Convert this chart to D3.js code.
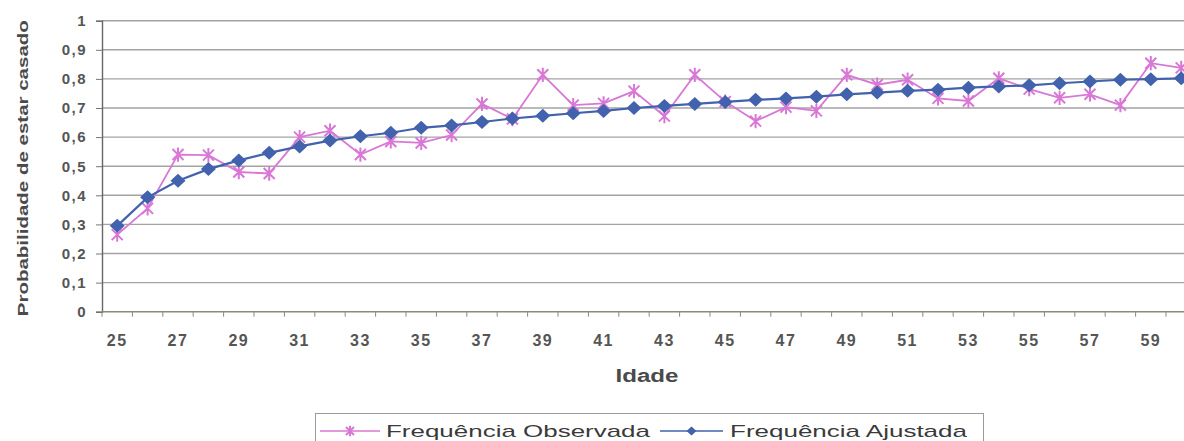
<!DOCTYPE html>
<html>
<head>
<meta charset="utf-8">
<script src="https://cdn.jsdelivr.net/npm/d3@7"></script>
<style>
  body { margin: 0; background: #fff; }
  svg { display: block; font-family: "Liberation Sans", Arial, sans-serif; }
</style>
</head>
<body>
<script>
// Data
const ages = [25, 26, 27, 28, 29, 30, 31, 32, 33, 34, 35, 36, 37, 38, 39, 40, 41, 42,
              43, 44, 45, 46, 47, 48, 49, 50, 51, 52, 53, 54, 55, 56, 57, 58, 59, 60];
const observada = [0.265, 0.355, 0.54, 0.538, 0.48, 0.475, 0.60, 0.622, 0.54, 0.585, 0.58, 0.607,
                   0.714, 0.662, 0.814, 0.71, 0.716, 0.758, 0.672, 0.814, 0.722, 0.655, 0.703, 0.69,
                   0.814, 0.78, 0.797, 0.733, 0.724, 0.802, 0.765, 0.735, 0.747, 0.71, 0.854, 0.838];
const ajustada = [0.295, 0.393, 0.45, 0.49, 0.52, 0.546, 0.568, 0.588, 0.603, 0.615, 0.632, 0.64,
                  0.652, 0.664, 0.673, 0.682, 0.69, 0.70, 0.707, 0.714, 0.721, 0.728, 0.733, 0.739,
                  0.747, 0.753, 0.759, 0.763, 0.77, 0.774, 0.778, 0.785, 0.791, 0.797, 0.799, 0.802];
const yTicks = [0, 0.1, 0.2, 0.3, 0.4, 0.5, 0.6, 0.7, 0.8, 0.9, 1];
const xLabels = [25, 27, 29, 31, 33, 35, 37, 39, 41, 43, 45, 47, 49, 51, 53, 55, 57, 59];
const seriesNames = ["Frequência Observada", "Frequência Ajustada"];

const W = 1184, H = 441;
const pinkC = "#d977d6", blueC = "#4262ad";

const svg = d3.select("body").append("svg")
    .attr("width", W)
    .attr("height", H);

// plot area runs off the right edge, like the scanned original
const x = d3.scaleBand().domain(ages).range([102, 1196.4]);
const y = d3.scaleLinear().domain([0, 1]).range([311.7, 20.7]);
const cx = d => x(d) + x.bandwidth() / 2;

// gridlines
svg.append("g")
    .selectAll("line")
    .data(yTicks.slice(1))
    .join("line")
    .attr("x1", 102).attr("x2", W)
    .attr("y1", d => y(d)).attr("y2", d => y(d))
    .attr("stroke", "#a3a3a3")
    .attr("stroke-width", 1.4);

// y axis
const yAxis = svg.append("g")
    .attr("transform", "translate(102,0)")
    .call(d3.axisLeft(y).tickValues(yTicks).tickSize(6).tickPadding(9)
        .tickFormat(d => d3.format(".1~f")(d).replace(".", ",")));
yAxis.select(".domain").attr("stroke", "#666").attr("stroke-width", 1.4);
yAxis.selectAll(".tick line").attr("stroke", "#777");
yAxis.selectAll("text")
    .attr("fill", "#555")
    .attr("font-size", 15)
    .attr("font-weight", "bold")
    .attr("letter-spacing", 1.5);

// x axis: ticks between categories, labels every other age
const xAxisLine = svg.append("g").attr("transform", `translate(0,${y(0)})`);
xAxisLine.append("line")
    .attr("x1", 102).attr("x2", W)
    .attr("stroke", "#8a8a7a").attr("stroke-width", 1.6);
xAxisLine.selectAll("line.tk")
    .data(ages)
    .join("line")
    .attr("class", "tk")
    .attr("x1", d => x(d)).attr("x2", d => x(d))
    .attr("y1", 0).attr("y2", 5)
    .attr("stroke", "#888");
xAxisLine.selectAll("text")
    .data(xLabels)
    .join("text")
    .attr("x", d => cx(d))
    .attr("y", 34)
    .attr("text-anchor", "middle")
    .attr("fill", "#555")
    .attr("font-size", 16)
    .attr("font-weight", "bold")
    .attr("letter-spacing", 1.5)
    .text(d => d);

// axis titles
svg.append("text")
    .attr("x", 647).attr("y", 382)
    .attr("text-anchor", "middle")
    .attr("fill", "#4a4a4a")
    .attr("font-size", 18)
    .attr("font-weight", "bold")
    .attr("textLength", 63)
    .attr("lengthAdjust", "spacingAndGlyphs")
    .text("Idade");

svg.append("text")
    .attr("transform", `translate(28,${(y(0) + y(1)) / 2 + 2}) rotate(-90)`)
    .attr("text-anchor", "middle")
    .attr("fill", "#4a4a4a")
    .attr("font-size", 15)
    .attr("font-weight", "bold")
    .attr("textLength", 296)
    .attr("lengthAdjust", "spacingAndGlyphs")
    .text("Probabilidade de estar casado");

// markers
const star = s => `M${-s},${-s}L${s},${s}M${-s},${s}L${s},${-s}M0,${-s * 1.3}L0,${s * 1.3}`;
const diamond = s => `M0,${-s}L${s + 0.5},0L0,${s}L${-s - 0.5},0Z`;

const line = d3.line().x((d, i) => cx(ages[i])).y(d => y(d));

// observed series
svg.append("path")
    .datum(observada)
    .attr("d", line)
    .attr("fill", "none")
    .attr("stroke", pinkC)
    .attr("stroke-width", 1.8);
svg.append("g").selectAll("path")
    .data(observada)
    .join("path")
    .attr("transform", (d, i) => `translate(${cx(ages[i])},${y(d)})`)
    .attr("d", star(5.5))
    .attr("fill", "none")
    .attr("stroke", pinkC)
    .attr("stroke-width", 2);

// fitted series
svg.append("path")
    .datum(ajustada)
    .attr("d", line)
    .attr("fill", "none")
    .attr("stroke", blueC)
    .attr("stroke-width", 2.2);
svg.append("g").selectAll("path")
    .data(ajustada)
    .join("path")
    .attr("transform", (d, i) => `translate(${cx(ages[i])},${y(d)})`)
    .attr("d", diamond(7))
    .attr("fill", blueC);

// legend
const lg = svg.append("g");
lg.append("rect")
    .attr("x", 315.5).attr("y", 413.5)
    .attr("width", 668).attr("height", 40)
    .attr("fill", "none")
    .attr("stroke", "#9a9a9a");

const legendItems = [
  { name: seriesNames[0], x0: 320, x1: 380, tx: 386, tw: 264, color: pinkC, mark: star(4), fill: "none" },
  { name: seriesNames[1], x0: 660, x1: 723, tx: 730, tw: 237, color: blueC, mark: diamond(4.5), fill: blueC }
];
legendItems.forEach(it => {
  lg.append("line")
      .attr("x1", it.x0).attr("x2", it.x1)
      .attr("y1", 431).attr("y2", 431)
      .attr("stroke", it.color).attr("stroke-width", 1.6);
  lg.append("path")
      .attr("transform", `translate(${(it.x0 + it.x1) / 2},431)`)
      .attr("d", it.mark)
      .attr("fill", it.fill)
      .attr("stroke", it.fill === "none" ? it.color : "none")
      .attr("stroke-width", 2);
  lg.append("text")
      .attr("x", it.tx).attr("y", 437)
      .attr("fill", "#3a3a3a")
      .attr("font-size", 17)
      .attr("textLength", it.tw)
      .attr("lengthAdjust", "spacingAndGlyphs")
      .text(it.name);
});
</script>
</body>
</html>
